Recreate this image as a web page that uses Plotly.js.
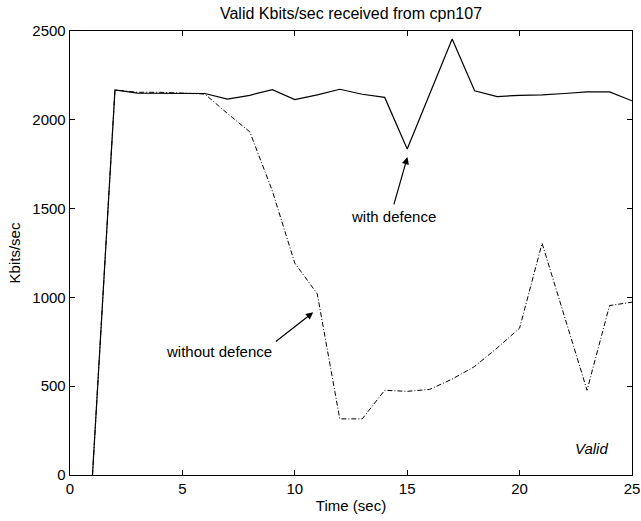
<!DOCTYPE html>
<html>
<head>
<meta charset="utf-8">
<script src="https://cdn.plot.ly/plotly-3.0.1.min.js"></script>
<style>html,body{margin:0;padding:0;background:#fff;}#chart{width:641px;height:521px;}</style>
</head>
<body>
<div id="chart"></div>
<script>
const timeSec = [1,2,3,4,5,6,7,8,9,10,11,12,13,14,15,16,17,18,19,20,21,22,23,24,25];
const withDefence = [0,2168,2150,2150,2148,2148,2116,2138,2170,2114,2140,2172,2144,2126,1835,2145,2455,2163,2131,2138,2140,2148,2157,2157,2107];
const withoutDefence = [0,2168,2155,2155,2150,2145,2036,1932,1600,1193,1020,316,316,477,471,482,540,611,715,827,1305,890,477,954,973];
const xTicks = [0,5,10,15,20,25];
const yTicks = [0,500,1000,1500,2000,2500];

const FONT = 'Liberation Sans, Arial, Helvetica, sans-serif';

const traces = [
  {x: timeSec, y: withoutDefence, mode: 'lines', line: {color: '#000', width: 1, dash: '5px,2px,1px,2px'}, hoverinfo: 'skip'},
  {x: timeSec, y: withDefence, mode: 'lines', line: {color: '#000', width: 1.2}, hoverinfo: 'skip'}
];

const axisCommon = {
  showline: true, linecolor: '#000', linewidth: 1.3, mirror: 'ticks',
  ticks: 'inside', ticklen: 5, tickwidth: 1, tickcolor: '#000',
  showgrid: false, zeroline: false,
  tickfont: {family: FONT, size: 15, color: '#000'}
};

const layout = {
  width: 641, height: 521,
  margin: {l: 70, r: 9, t: 31, b: 46},
  paper_bgcolor: '#fff', plot_bgcolor: '#fff',
  showlegend: false,
  title: {text: 'Valid Kbits/sec received from cpn107', font: {family: FONT, size: 16, color: '#000'}, xref: 'paper', x: 0.5, xanchor: 'center', y: 0.975, yanchor: 'middle'},
  xaxis: Object.assign({}, axisCommon, {range: [0, 25], tickvals: xTicks, ticktext: xTicks.map(String),
    title: {text: 'Time (sec)', font: {family: FONT, size: 15, color: '#000'}, standoff: 4}}),
  yaxis: Object.assign({}, axisCommon, {range: [0, 2500], tickvals: yTicks, ticktext: yTicks.map(String),
    title: {text: 'Kbits/sec', font: {family: FONT, size: 15, color: '#000'}, standoff: 8}}),
  annotations: [
    {x: 15.01, y: 1790, ax: 14.39, ay: 1515, xref: 'x', yref: 'y', axref: 'x', ayref: 'y',
     showarrow: true, arrowhead: 2, arrowsize: 1.2, arrowwidth: 1.2, arrowcolor: '#000', text: ''},
    {x: 14.38, y: 1453, xref: 'x', yref: 'y', text: 'with defence', showarrow: false,
     font: {family: FONT, size: 15, color: '#000'}},
    {x: 10.82, y: 916, ax: 9.09, ay: 745, xref: 'x', yref: 'y', axref: 'x', ayref: 'y',
     showarrow: true, arrowhead: 2, arrowsize: 1.2, arrowwidth: 1.2, arrowcolor: '#000', text: ''},
    {x: 6.64, y: 694, xref: 'x', yref: 'y', text: 'without defence', showarrow: false,
     font: {family: FONT, size: 15, color: '#000'}},
    {x: 23.2, y: 149, xref: 'x', yref: 'y', text: '<i>Valid</i>', showarrow: false,
     font: {family: FONT, size: 15, color: '#000'}}
  ]
};

Plotly.newPlot('chart', traces, layout, {displayModeBar: false, staticPlot: true});
</script>
</body>
</html>
